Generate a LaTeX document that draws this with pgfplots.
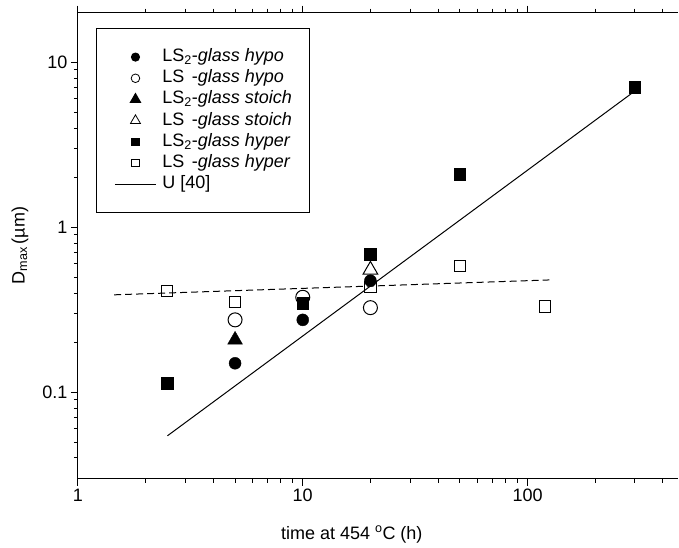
\documentclass[border=0pt]{standalone}
\usepackage{fontspec}
\setmainfont{Liberation Sans}
\usepackage{pgfplots}
\pgfplotsset{compat=1.18}
\begin{document}
\begin{tikzpicture}
\begin{axis}[
  at={(0pt,0pt)}, anchor=south west,
  scale only axis, width=601pt, height=466.3pt,
  xmode=log, ymode=log,
  xmin=1, xmax=469, ymin=0.03, ymax=20,
  axis y line*=left,
  axis line style={line width=1.1pt},
  tick align=outside,
  major tick length=7pt, minor tick length=4pt,
  every tick/.style={line width=1pt, black},
  xtick={1,10,100}, xticklabels={1,10,100},
  minor xtick={2,3,4,5,6,7,8,9,20,30,40,50,60,70,80,90,200,300,400},
  ytick={0.1,1,10}, yticklabels={0.1,1,10},
  minor ytick={0.04,0.05,0.06,0.07,0.08,0.09,0.2,0.3,0.4,0.5,0.6,0.7,0.8,0.9,2,3,4,5,6,7,8,9},
  tick label style={font=\fontsize{18}{18}\selectfont},
  xlabel={time at 454 \textsuperscript{o}C (h)},
  ylabel={D\textsubscript{max}\,(µm)},
  every axis x label/.style={at={(axis description cs:0.456,-0.120)}, anchor=center, font=\fontsize{18}{18}\selectfont},
  every axis y label/.style={at={(axis description cs:-0.0965,0.5)}, rotate=90, anchor=center, font=\fontsize{18}{18}\selectfont},
  legend image code/.code={\draw[mark repeat=2,mark phase=2,#1] plot coordinates {(0pt,0pt) (20.5pt,0pt) (41pt,0pt)};},
  legend cell align=left,
  legend style={at={(axis description cs:0.030,0.967)}, anchor=north west,
    draw=black, line width=1.1pt, inner xsep=18pt, inner ysep=20pt,
    font=\fontsize{18}{18}\selectfont,
    row sep=4.2pt,
    nodes={inner sep=0pt, text height=13pt, text depth=4pt},
    /tikz/every odd column/.append style={column sep=6pt}},
]
\addlegendimage{only marks, mark=*, mark size=4pt, black}
\addlegendentry{LS\textsubscript{2}-\textit{glass hypo}}
\addlegendimage{only marks, mark=o, mark size=4.3pt, black, line width=0.8pt}
\addlegendentry{LS\phantom{\textsubscript{2}}-\textit{glass hypo}}
\addlegendimage{only marks, mark=triangle*, mark size=5.8pt, black}
\addlegendentry{LS\textsubscript{2}-\textit{glass stoich}}
\addlegendimage{only marks, mark=triangle, mark size=5.8pt, black, line width=0.8pt}
\addlegendentry{LS\phantom{\textsubscript{2}}-\textit{glass stoich}}
\addlegendimage{only marks, mark=square*, mark size=3.6pt, black}
\addlegendentry{LS\textsubscript{2}-\textit{glass hyper}}
\addlegendimage{only marks, mark=square, mark size=3.6pt, black, line width=0.8pt}
\addlegendentry{LS\phantom{\textsubscript{2}}-\textit{glass hyper}}
\addlegendimage{black, line width=1pt}
\addlegendentry{U [40]}

% LS2-glass hypo
\addplot[forget plot, only marks, mark=*, mark size=6pt, black] coordinates {(5,0.150) (10,0.275) (20,0.475)};
% LS-glass hypo
\addplot[forget plot, only marks, mark=o, mark size=7pt, black, line width=1pt] coordinates {(5,0.275) (10,0.377) (20,0.326)};
% LS2-glass stoich
\addplot[forget plot, only marks, mark=triangle*, mark size=8.5pt, black] coordinates {(5,0.208)};
% LS-glass stoich
\addplot[forget plot, only marks, mark=triangle, mark size=8.5pt, black, line width=1pt] coordinates {(20,0.552)};
% LS2-glass hyper
\addplot[forget plot, only marks, mark=square*, mark size=5.8pt, black] coordinates {(2.5,0.1135) (10,0.347) (20,0.69) (50,2.10) (300,7.06)};
% LS-glass hyper
\addplot[forget plot, only marks, mark=square, mark size=5.6pt, black, line width=1pt] coordinates {(2.5,0.412) (5,0.352) (20,0.437) (50,0.58) (120,0.331)};
% U [40]
\addplot[forget plot, black, line width=1pt] coordinates {(2.5,0.0545) (300,6.7)};
% dashed fit
\addplot[forget plot, black, line width=1pt, dash pattern=on 7pt off 4pt] coordinates {(1.45,0.390) (125,0.480)};
\end{axis}
\path (-78pt,-69pt) rectangle (601pt,479pt);
\end{tikzpicture}
\end{document}
